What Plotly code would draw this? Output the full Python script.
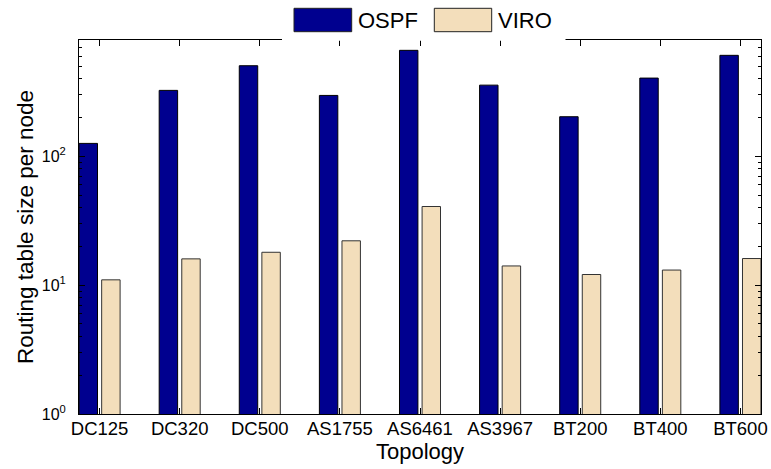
import plotly.graph_objects as go

# Routing table size per node for each topology (log scale)
topologies = ["DC125", "DC320", "DC500", "AS1755", "AS6461", "AS3967", "BT200", "BT400", "BT600"]
ospf = [126, 325, 505, 297, 665, 357, 203, 405, 608]
viro = [11.0, 16.0, 18.0, 22.1, 40.8, 14.1, 12.1, 13.1, 16.1]
y_tick_vals = [1, 10, 100]
y_tick_text = ["10<sup>0</sup>", "10<sup>1</sup>", "10<sup>2</sup>"]

OSPF_COLOR = "#00008F"
VIRO_COLOR = "#F3DEBB"
FONT = "Liberation Sans, Arial, sans-serif"

W, H = 771, 469
M_L, M_R, M_T, M_B = 79, 10, 40, 55
PW, PH = W - M_L - M_R, H - M_T - M_B


def px_x(px):
    return (px - M_L) / PW


def px_y(py):
    return (H - M_B - py) / PH


fig = go.Figure()
fig.add_trace(go.Bar(x=topologies, y=ospf, name="OSPF", marker=dict(color=OSPF_COLOR, line=dict(color="black", width=1))))
fig.add_trace(go.Bar(x=topologies, y=viro, name="VIRO", marker=dict(color=VIRO_COLOR, line=dict(color="#333333", width=1))))

fig.update_layout(
    width=W, height=H,
    margin=dict(l=M_L, r=M_R, t=M_T, b=M_B, autoexpand=False),
    paper_bgcolor="white", plot_bgcolor="white",
    barmode="group", bargap=0.436, bargroupgap=0.184,
    showlegend=False,
    font=dict(family=FONT, color="black", size=18),
)

fig.update_xaxes(
    range=[-0.257, 8.257], automargin=False,
    showline=True, linecolor="black", linewidth=1, mirror="allticks",
    ticks="inside", ticklen=6, tickcolor="black",
    showgrid=False,
    ticklabelstandoff=-2,
    tickfont=dict(size=18.5, family=FONT, color="black"),
    title=dict(text="Topology", font=dict(size=22, family=FONT, color="black"), standoff=0),
)
fig.update_yaxes(
    type="log", range=[0, 2.903], automargin=False,
    tickvals=y_tick_vals, ticktext=y_tick_text,
    showline=True, linecolor="black", linewidth=1, mirror="allticks",
    ticks="inside", ticklen=6, tickcolor="black",
    minor=dict(ticks="inside", ticklen=3, tickcolor="black", dtick="D1", showgrid=False),
    showgrid=False, zeroline=False,
    ticklabelstandoff=9,
    tickfont=dict(size=16, family=FONT, color="black"),
    title=dict(text="Routing table size per node", font=dict(size=22.5, family=FONT, color="black"), standoff=1),
)

# Legend box drawn across the top edge of the axes
fig.add_shape(type="rect", xref="paper", yref="paper",
              x0=px_x(282), x1=px_x(565.5), y0=px_y(40.8), y1=px_y(-2),
              fillcolor="white", line=dict(width=0), layer="above")
legend_items = [("OSPF", OSPF_COLOR, 294, 351.7), ("VIRO", VIRO_COLOR, 434.3, 491.7)]
for label, color, x0, x1 in legend_items:
    fig.add_shape(type="rect", xref="paper", yref="paper",
                  x0=px_x(x0), x1=px_x(x1), y0=px_y(31.7), y1=px_y(8.3),
                  fillcolor=color, line=dict(color="#222222", width=1), layer="above")
    fig.add_annotation(x=px_x(x1 + 4.5), y=px_y(20), xref="paper", yref="paper",
                       text=label, showarrow=False, xanchor="left", yanchor="middle",
                       font=dict(size=22, family=FONT, color="black"))

fig.write_html("out.html")
